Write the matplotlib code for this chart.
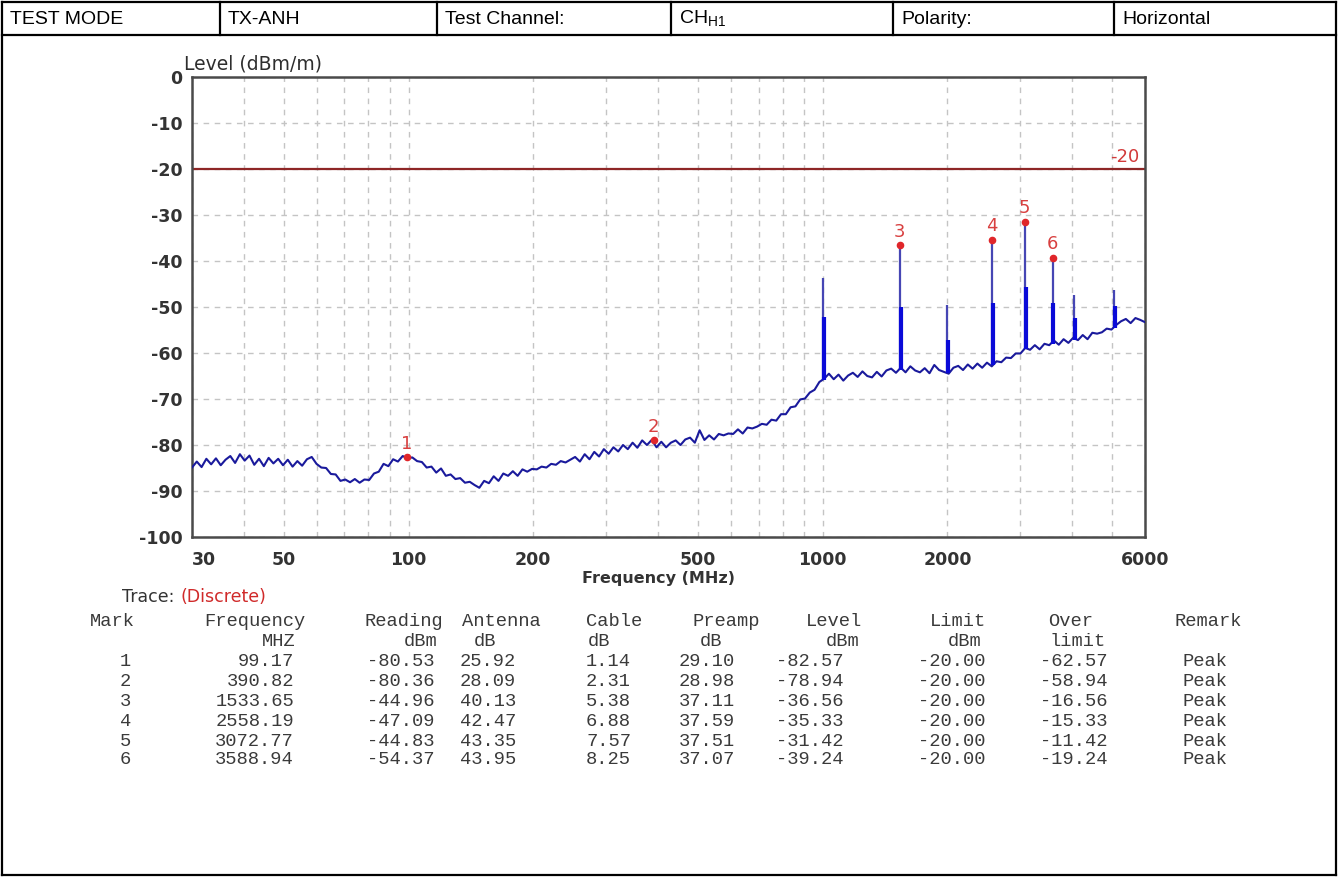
import numpy as np
import matplotlib
matplotlib.use("Agg")
import matplotlib.pyplot as plt
from matplotlib.lines import Line2D

W, H = 1338, 877

# header row of the report page
header_cells = ["TEST MODE", "TX-ANH", "Test Channel:", r"CH$_{\mathrm{H1}}$", "Polarity:", "Horizontal"]

# sweep: 200 points log-spaced between 30 MHz and 6 GHz, level in dBm/m
sweep_start, sweep_stop, sweep_points = 30, 6000, 200
trace_level = [
    -84.9, -83.6, -84.8, -83.0, -84.2, -82.9, -84.4, -83.2, -82.4, -83.9,
    -82.0, -83.4, -82.3, -84.3, -83.0, -84.6, -82.8, -84.0, -83.0, -84.4,
    -83.2, -84.7, -83.5, -84.5, -83.1, -82.6, -84.1, -84.9, -85.0, -86.3,
    -86.4, -87.8, -87.5, -88.1, -87.4, -88.2, -87.5, -87.6, -86.2, -85.8,
    -84.1, -84.6, -83.1, -83.6, -82.4, -82.9, -82.7, -83.5, -83.7, -84.9,
    -84.7, -86.0, -85.1, -86.7, -86.4, -87.4, -87.2, -88.2, -88.0, -88.7,
    -89.3, -87.8, -88.3, -86.8, -87.8, -86.2, -86.7, -85.7, -86.7, -85.3,
    -85.8, -85.2, -85.3, -84.7, -84.9, -84.1, -84.3, -83.5, -83.8, -83.2,
    -82.6, -83.6, -82.0, -83.1, -81.5, -82.5, -80.9, -81.9, -80.5, -81.4,
    -80.0, -80.9, -79.5, -80.6, -79.0, -80.0, -78.9, -80.5, -79.3, -80.5,
    -79.5, -79.0, -80.0, -78.8, -78.4, -79.5, -76.8, -78.9, -77.9, -78.8,
    -77.6, -77.9, -77.5, -77.6, -76.6, -77.5, -76.2, -76.4, -76.0, -75.4,
    -75.6, -74.5, -74.7, -73.3, -73.3, -71.8, -71.6, -70.1, -69.9, -68.6,
    -68.0, -66.3, -65.6, -64.5, -65.7, -64.7, -66.0, -64.9, -64.3, -65.2,
    -64.0, -65.0, -65.3, -64.1, -65.1, -63.8, -63.4, -64.3, -63.2, -64.2,
    -62.9, -63.8, -64.2, -63.3, -64.4, -62.6, -63.7, -64.1, -64.5, -63.2,
    -62.8, -63.7, -62.5, -63.4, -62.3, -63.2, -62.1, -62.9, -61.8, -62.0,
    -61.0, -61.1, -60.1, -60.1, -58.9, -59.3, -58.3, -59.2, -58.0, -58.3,
    -57.3, -58.2, -57.0, -57.8, -56.7, -57.2, -56.1, -57.0, -55.6, -55.8,
    -55.5, -54.7, -54.9, -53.9, -53.1, -52.6, -53.5, -52.4, -52.8, -53.3,
]

# discrete emissions: peak and second-sweep level standing on the noise floor
spike_freq = [1000.0, 1533.65, 2000.0, 2558.19, 3072.77, 3588.94, 4050.0, 5040.0]
spike_peak = [-43.8, -36.56, -49.6, -35.33, -31.42, -39.24, -47.4, -46.3]
spike_inner = [-52.1, -49.9, -57.2, -49.2, -45.6, -49.2, -52.4, -49.8]
spike_base = [-65.8, -63.8, -64.3, -62.6, -59.2, -58.0, -57.2, -54.6]

limit_level = -20

# marker table
mark_no = [1, 2, 3, 4, 5, 6]
mark_freq = [99.17, 390.82, 1533.65, 2558.19, 3072.77, 3588.94]
mark_reading = [-80.53, -80.36, -44.96, -47.09, -44.83, -54.37]
mark_antenna = [25.92, 28.09, 40.13, 42.47, 43.35, 43.95]
mark_cable = [1.14, 2.31, 5.38, 6.88, 7.57, 8.25]
mark_preamp = [29.10, 28.98, 37.11, 37.59, 37.51, 37.07]
mark_level = [-82.57, -78.94, -36.56, -35.33, -31.42, -39.24]
mark_limit = [-20.00] * 6
mark_over = [-62.57, -58.94, -16.56, -15.33, -11.42, -19.24]
mark_remark = ["Peak"] * 6

x_ticks = [30, 50, 100, 200, 500, 1000, 2000, 6000]
x_grid = [40, 60, 70, 80, 90, 300, 400, 600, 700, 800, 900, 3000, 4000, 5000]
y_ticks = list(range(-100, 1, 10))

plt.rcParams["mathtext.fontset"] = "custom"
plt.rcParams["mathtext.rm"] = "Liberation Sans"


def fx(x):
    return x / W


def fy(y):
    return 1 - y / H


fig = plt.figure(figsize=(W / 100, H / 100), dpi=100)
fig.patch.set_facecolor("white")

# page frame and header cells
frame_kw = dict(color="black", lw=1.6, transform=fig.transFigure)
for (x0, y0, x1, y1) in [(2, 2, 1336, 2), (2, 875, 1336, 875), (2, 2, 2, 875),
                         (1336, 2, 1336, 875), (2, 35, 1336, 35)]:
    fig.add_artist(Line2D([fx(x0), fx(x1)], [fy(y0), fy(y1)], **frame_kw))
cell_left = [2, 220, 437, 671, 893, 1114]
for xl in cell_left[1:]:
    fig.add_artist(Line2D([fx(xl), fx(xl)], [fy(2), fy(35)], **frame_kw))
for xl, txt in zip(cell_left, header_cells):
    fig.text(fx(xl + 8), fy(19), txt, fontsize=14, family="Liberation Sans",
             va="center", ha="left")

# spectrum plot
ax = fig.add_axes([fx(192), fy(537), (1145 - 192) / W, (537 - 77) / H])
freqs = np.geomspace(sweep_start, sweep_stop, sweep_points)
ax.plot(freqs, trace_level, color="#1a1a9c", lw=1.5, zorder=3)
ax.vlines(spike_freq, spike_base, spike_peak, color="#4646b4", lw=1.6, zorder=3)
ax.vlines(np.array(spike_freq) * 1.005, spike_base, spike_inner, color="#0a0ad8",
          lw=3.0, zorder=3)

ax.axhline(limit_level, color="#8e2626", lw=1.6, zorder=2)
ax.annotate(str(limit_level), (1, limit_level), xycoords=("axes fraction", "data"),
            xytext=(-4, 2), textcoords="offset points", color="#d23a3a",
            fontsize=13, ha="right", va="bottom")

ax.scatter(mark_freq, mark_level, s=20, color="#e0262a", zorder=4)
for n, f, lv in zip(mark_no, mark_freq, mark_level):
    ax.annotate(str(n), (f, lv), xytext=(0, 3), textcoords="offset points",
                ha="center", va="bottom", color="#d84040", fontsize=13)

ax.set_xscale("log")
ax.set_xlim(30, 6000)
ax.set_ylim(-100, 0)
ax.set_xticks(x_ticks)
ax.set_xticklabels([str(t) for t in x_ticks])
ax.set_xticks(x_grid, minor=True)
ax.set_xticklabels([], minor=True)
ax.set_yticks(y_ticks)
ax.set_yticklabels([str(t) for t in y_ticks])
ax.tick_params(which="both", length=0, labelsize=12.5, labelcolor="#333333")
ax.tick_params(axis="y", pad=7)
ax.tick_params(axis="x", pad=10)
for lab in ax.get_xticklabels() + ax.get_yticklabels():
    lab.set_fontweight("bold")
ax.get_xticklabels()[0].set_ha("left")
ax.grid(True, which="both", axis="x", color="#c4c4c4", lw=1, ls=(0, (4, 4)))
ax.grid(True, which="major", axis="y", color="#c4c4c4", lw=1, ls=(0, (4, 4)))
ax.set_axisbelow(True)
for sp in ax.spines.values():
    sp.set_color("#4a4a4a")
    sp.set_linewidth(1.8)

fig.text(fx(184), fy(64), "Level (dBm/m)", fontsize=13.5, color="#2e2e2e",
         ha="left", va="center")
fig.text(fx(658), fy(579), "Frequency (MHz)", fontsize=11.5, color="#333333",
         ha="center", va="center", fontweight="bold")
fig.text(fx(122), fy(597), "Trace: ", fontsize=12.5, color="#333333",
         ha="left", va="center")
fig.text(fx(180), fy(597), "(Discrete)", fontsize=12.5, color="#d02a2a",
         ha="left", va="center")

# marker table in monospace
mono = dict(family="Liberation Mono", fontsize=13.5, color="#3a3a3a", va="center")
head1 = [("Mark", 90), ("Frequency", 204), ("Reading", 364), ("Antenna", 462),
         ("Cable", 586), ("Preamp", 692), ("Level", 806), ("Limit", 930),
         ("Over", 1048), ("Remark", 1175)]
head2 = [("MHZ", 279), ("dBm", 421), ("dB", 485), ("dB", 599), ("dB", 711),
         ("dBm", 843), ("dBm", 965), ("limit", 1078)]
for txt, x in head1:
    fig.text(fx(x), fy(621), txt, ha="left", **mono)
for txt, x in head2:
    fig.text(fx(x), fy(641), txt, ha="center", **mono)

row_y = [662, 682, 702, 721, 741, 760]
for k, y in enumerate(row_y):
    cells = [
        (str(mark_no[k]), 131, "right"),
        (f"{mark_freq[k]:.2f}", 294, "right"),
        (f"{mark_reading[k]:.2f}", 434, "right"),
        (f"{mark_antenna[k]:.2f}", 460, "left"),
        (f"{mark_cable[k]:.2f}", 586, "left"),
        (f"{mark_preamp[k]:.2f}", 679, "left"),
        (f"{mark_level[k]:.2f}", 776, "left"),
        (f"{mark_limit[k]:.2f}", 918, "left"),
        (f"{mark_over[k]:.2f}", 1040, "left"),
        (mark_remark[k], 1228, "right"),
    ]
    for txt, x, ha in cells:
        fig.text(fx(x), fy(y), txt, ha=ha, **mono)

fig.savefig("out.png", dpi=100, facecolor="white")
